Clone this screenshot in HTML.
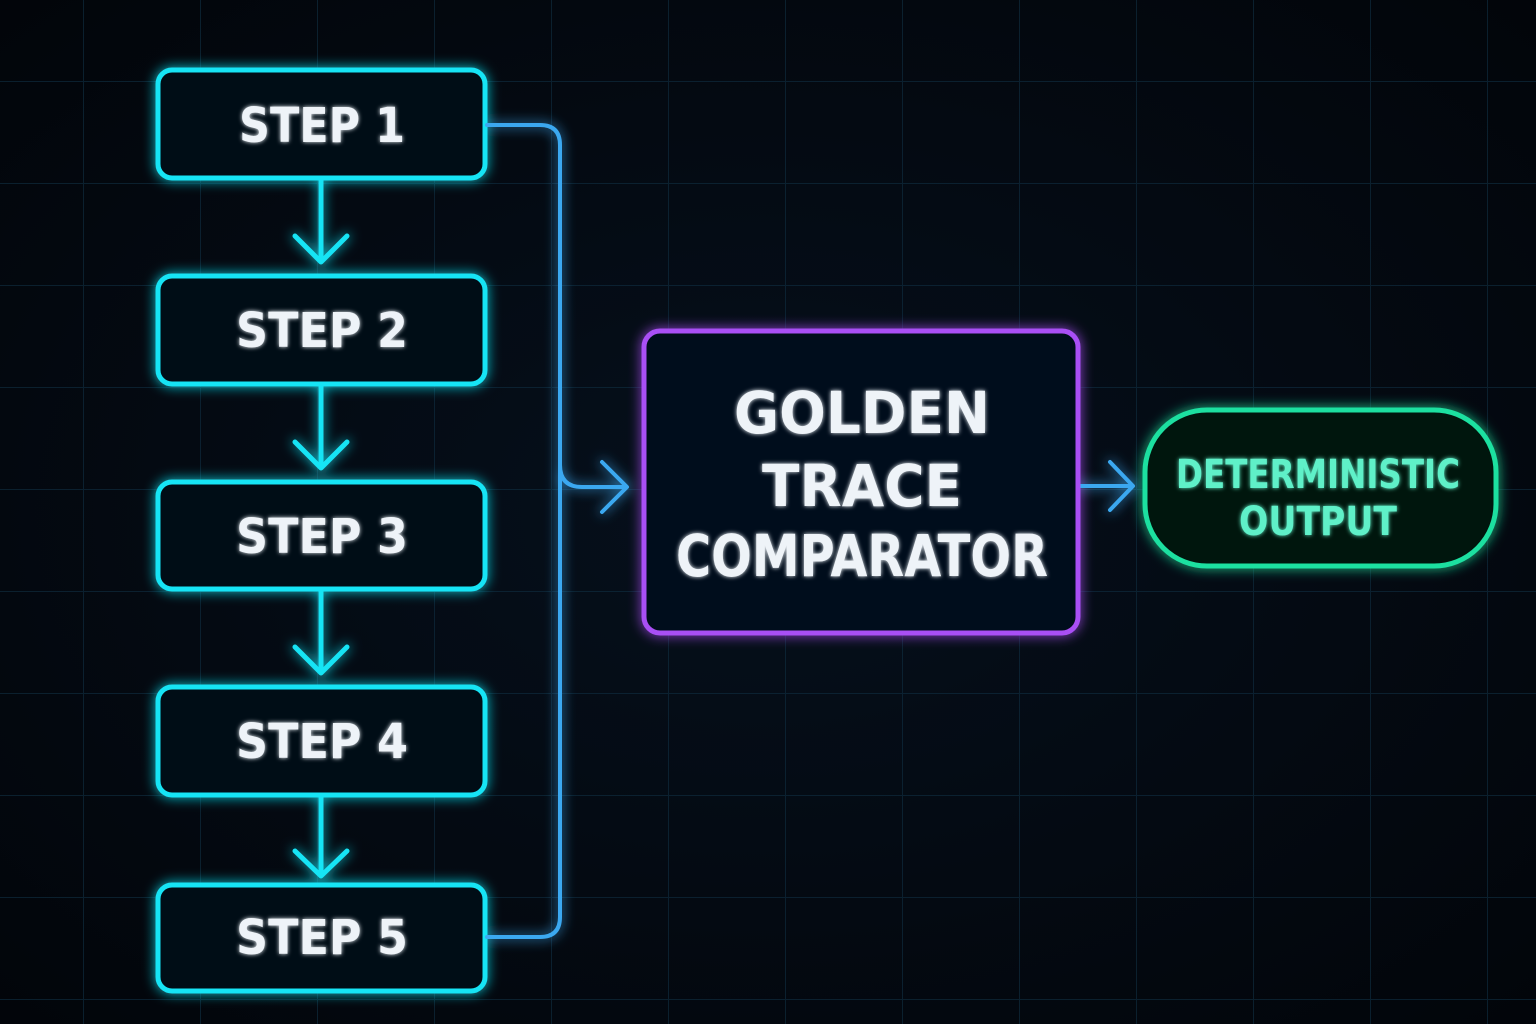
<!DOCTYPE html>
<html><head><meta charset="utf-8"><style>
html,body{margin:0;padding:0;background:#03070d;}
svg{display:block}
text{font-family:"DejaVu Sans","Liberation Sans",sans-serif;font-weight:bold;}
</style></head><body>
<svg width="1536" height="1024" viewBox="0 0 1536 1024" xmlns="http://www.w3.org/2000/svg">
<defs>
<radialGradient id="bg" cx="50%" cy="50%" r="70%"><stop offset="0" stop-color="#06101c"/><stop offset="1" stop-color="#02050a"/></radialGradient>
<pattern id="grid" x="83" y="81" width="117" height="102" patternUnits="userSpaceOnUse">
<path d="M0 0V102M0 0H117" stroke="#0e2a3c" stroke-width="2" fill="none"/></pattern>
<filter id="glow" x="-30%" y="-30%" width="160%" height="160%"><feGaussianBlur stdDeviation="6" result="b"/><feMerge><feMergeNode in="b"/><feMergeNode in="SourceGraphic"/></feMerge></filter>
<filter id="tglow"><feGaussianBlur stdDeviation="2" result="b"/><feMerge><feMergeNode in="b"/><feMergeNode in="SourceGraphic"/></feMerge></filter>
</defs>
<rect width="1536" height="1024" fill="url(#bg)"/>
<rect width="1536" height="1024" fill="url(#grid)" opacity="0.7"/>
<g filter="url(#glow)" fill="none" stroke-linecap="round" stroke-linejoin="round">
<g stroke="#18e4f5" stroke-width="5" fill="#050d16">
<rect x="158" y="70" width="327" height="108" rx="14"/>
<rect x="158" y="276" width="327" height="108" rx="14"/>
<rect x="158" y="482" width="327" height="107" rx="14"/>
<rect x="158" y="687" width="327" height="108" rx="14"/>
<rect x="158" y="885" width="327" height="106" rx="14"/>
</g>
<g stroke="#18e4f5" stroke-width="5">
<path d="M321 180V262M295 236L321 262L347 236"/>
<path d="M321 386V468M295 442L321 468L347 442"/>
<path d="M321 591V673M295 647L321 673L347 647"/>
<path d="M321 797V876M295 851L321 876L347 851"/>
</g>
<g stroke="#3aa8f0" stroke-width="4">
<path d="M487 125H540Q560 125 560 145V917Q560 937 540 937H487"/>
<path d="M560 465Q560 487 582 487H626M602 462L627 487L602 512"/>
<path d="M1080 486H1132M1110 462L1133 486L1110 510"/>
</g>
<rect x="644" y="331" width="434" height="302" rx="16" stroke="#a94ff5" stroke-width="5" fill="#060a1a"/>
<rect x="1145" y="410" width="351" height="156" rx="62" stroke="#1fe0a0" stroke-width="5" fill="#04140f"/>
</g>
<g fill="#eef3f8" filter="url(#tglow)" text-anchor="middle" font-size="48" lengthAdjust="spacingAndGlyphs">
<text x="322" y="142" textLength="166" lengthAdjust="spacingAndGlyphs">STEP 1</text>
<text x="322" y="347" textLength="172" lengthAdjust="spacingAndGlyphs">STEP 2</text>
<text x="322" y="553" textLength="172" lengthAdjust="spacingAndGlyphs">STEP 3</text>
<text x="322" y="758" textLength="172" lengthAdjust="spacingAndGlyphs">STEP 4</text>
<text x="322" y="954" textLength="172" lengthAdjust="spacingAndGlyphs">STEP 5</text>
<text x="862" y="433" font-size="58" textLength="256" lengthAdjust="spacingAndGlyphs">GOLDEN</text>
<text x="862" y="506" font-size="58" textLength="200" lengthAdjust="spacingAndGlyphs">TRACE</text>
<text x="862" y="576" font-size="58" textLength="372" lengthAdjust="spacingAndGlyphs">COMPARATOR</text>
</g>
<g fill="#5ef0c8" filter="url(#tglow)" text-anchor="middle" font-size="40">
<text x="1318" y="488" textLength="284" lengthAdjust="spacingAndGlyphs">DETERMINISTIC</text>
<text x="1318" y="535" textLength="158" lengthAdjust="spacingAndGlyphs">OUTPUT</text>
</g>
</svg>
</body></html>
